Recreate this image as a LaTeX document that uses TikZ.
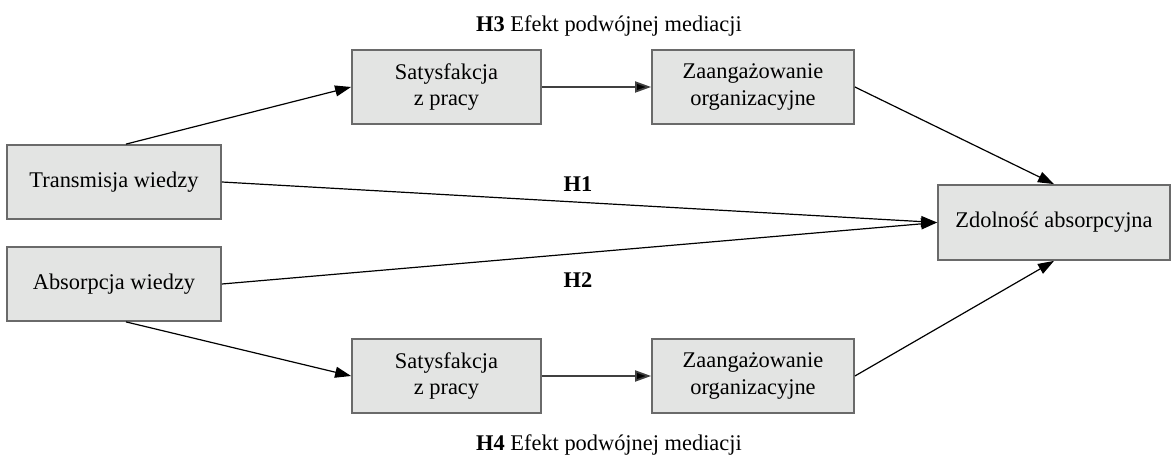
\documentclass[tikz,border=0pt]{standalone}
\usepackage{fontspec}
\setmainfont{Liberation Serif}
\usepackage[usenames,dvipsnames]{xcolor}
\usepackage{tikz}
\usetikzlibrary{arrows.meta}

\definecolor{boxfill}{HTML}{E3E4E3}
\definecolor{boxline}{HTML}{6A6A6A}

\begin{document}
\begin{tikzpicture}[x=0.5pt, y=-0.5pt,
  font=\fontsize{11.2}{13.2}\selectfont,
  box/.style={draw=boxline, fill=boxfill, line width=0.9pt, inner sep=0pt, align=center},
  arr/.style={-{Triangle[length=8pt, width=5.5pt, fill=black]}, line width=0.6pt},
  hlabel/.style={inner sep=0pt}]

\useasboundingbox (0, 0) rectangle (1171, 459);

% input nodes

\node[box, minimum width=107pt, minimum height=37pt] (trans) at (114, 182) {Transmisja wiedzy};
\node[box, minimum width=107pt, minimum height=37pt] (absorp) at (114, 284) {Absorpcja wiedzy};

% mediators, top path

\node[box, minimum width=94.5pt, minimum height=37pt] (sat1) at (446.5, 87) {Satysfakcja\\z pracy};
\node[box, minimum width=101pt, minimum height=37pt] (zaa1) at (753, 87) {Zaangażowanie\\organizacyjne};

% mediators, bottom path

\node[box, minimum width=94.5pt, minimum height=37pt] (sat2) at (446.5, 376) {Satysfakcja\\z pracy};
\node[box, minimum width=101pt, minimum height=37pt] (zaa2) at (753, 376) {Zaangażowanie\\organizacyjne};

% output node

\node[box, minimum width=116pt, minimum height=37.5pt] (zdol) at (1054, 222.5) {Zdolność absorpcyjna};

% hypothesis labels

\node[hlabel] (h3) at (609, 26) {\textbf{H3} Efekt podwójnej mediacji};
\node[hlabel] (h1) at (578, 184) {\textbf{H1}};
\node[hlabel] (h2) at (578, 280) {\textbf{H2}};
\node[hlabel] (h4) at (609, 445) {\textbf{H4} Efekt podwójnej mediacji};

% direct paths
\draw [arr] (trans.east) -- (zdol.west);
\draw [arr] (absorp.east) -- (zdol.west);

% top mediation
\draw [arr] ([xshift=6pt]trans.north) -- (sat1.west);
\draw [arr, draw=black!75, line width=0.9pt] (sat1.east) -- (zaa1.west);
\draw [arr] (zaa1.east) -- (zdol.north);

% bottom mediation
\draw [arr] ([xshift=6pt]absorp.south) -- (sat2.west);
\draw [arr, draw=black!75, line width=0.9pt] (sat2.east) -- (zaa2.west);
\draw [arr] (zaa2.east) -- (zdol.south);

\end{tikzpicture}
\end{document}
